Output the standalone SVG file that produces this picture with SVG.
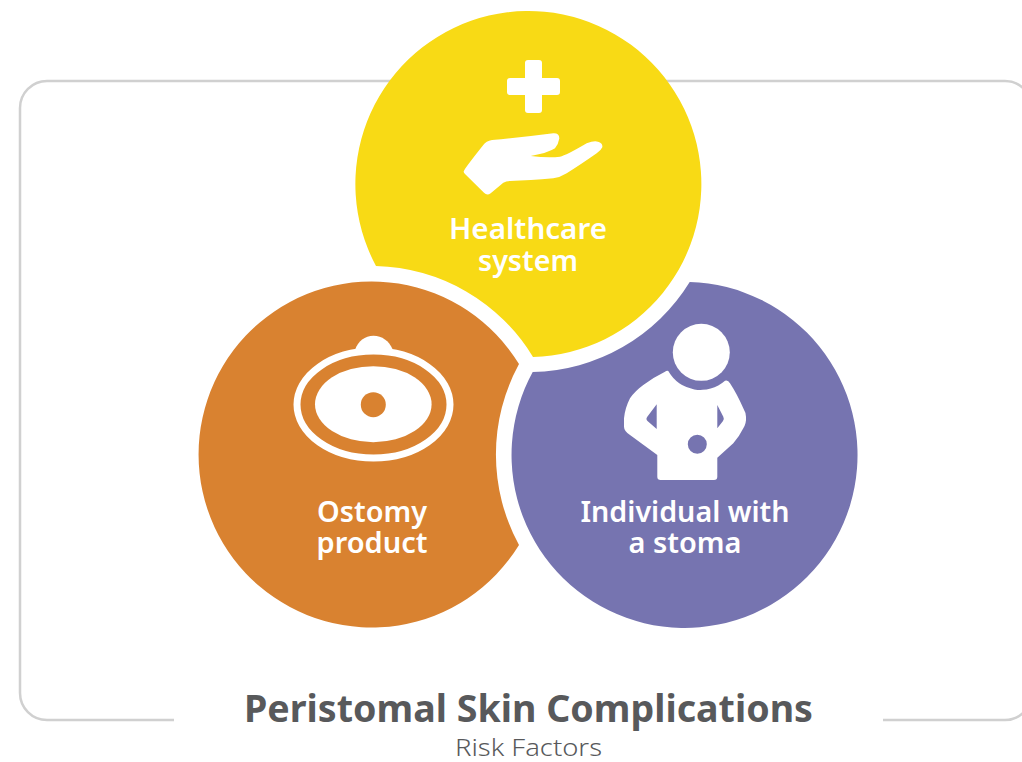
<svg xmlns="http://www.w3.org/2000/svg" width="1022" height="762" viewBox="0 0 1022 762">
<style>
.t{font-family:"Noto Sans","Open Sans",sans-serif;text-anchor:middle}
.w{fill:#fff;font-weight:600;font-size:28px}
.i{fill:#fff}
</style>
<rect width="1022" height="762" fill="#fff"/>
<g id="frame"><path d="M174,720H47A27,27 0 0 1 20,693V108A27,27 0 0 1 47,81H1005A27,27 0 0 1 1032,108V693A27,27 0 0 1 1005,720H883" fill="none" stroke="#d0d0d0" stroke-width="2.5"/></g>
<g id="healthcare">
<path d="M376,266A173,173 0 1 1 533,357A189,189 0 0 0 376,266Z" fill="#f8da15"/>
<path class="i" d="M528,60H539Q542,60 542,63V78H557Q560,78 560,81V92Q560,95 557,95H542V110Q542,113 539,113H528Q525,113 525,110V95H510Q507,95 507,92V81Q507,78 510,78H525V63Q525,60 528,60Z"/>
<path class="i" d="M464,170.7Q465,168 483.3,145Q486,141 492,140Q525,137 553.3,133.3Q559.5,133 559.3,138.5Q558.5,144 555,148.3Q548,153 530.7,156Q548,158 560,156.7Q566,155.5 586.7,143.3Q594,140.5 598,141.7Q603,143 602.3,147.3Q601,150.5 596.7,153.3Q580,165 566.7,173.3Q560,177.5 553.3,178.3Q530,180.5 510,181Q506,181 503.3,182.7L490.7,193.3Q487,196 484,192.7L465,174Q463,172.5 464,170.7Z"/>
<text class="t w" x="528" y="239" textLength="158" lengthAdjust="spacingAndGlyphs">Healthcare</text>
<text class="t w" x="528" y="271" textLength="100" lengthAdjust="spacingAndGlyphs">system</text>
</g>
<g id="ostomy-product">
<path d="M519,364A189,189 0 0 0 519,545A173,173 0 1 1 519,364Z" fill="#d98230"/>
<path class="i" d="M355,350C358,341 365,335.7 373.5,335.7C382,335.7 389,341 392.5,349L385,352H362Z"/>
<ellipse cx="373.5" cy="404.6" rx="76.5" ry="53.5" fill="none" stroke="#fff" stroke-width="7"/>
<ellipse class="i" cx="373.3" cy="404.2" rx="58.3" ry="38"/>
<circle cx="373.3" cy="404.7" r="12.5" fill="#d98230"/>
<text class="t w" x="372" y="522" textLength="110" lengthAdjust="spacingAndGlyphs">Ostomy</text>
<text class="t w" x="372" y="553" textLength="111" lengthAdjust="spacingAndGlyphs">product</text>
</g>
<g id="individual-with-a-stoma">
<path d="M532.7,372A189,189 0 0 0 689.7,282A173,173 0 1 1 532.7,372Z" fill="#7674b0"/>
<circle class="i" cx="701.3" cy="352.3" r="28.5"/>
<path class="i" fill-rule="evenodd" d="M668.3,371A37,37 0 0 0 725,380.7Q728,379.5 730,383.3Q737,394 743.3,408.3Q746,413 746,416.7Q746.5,423 743.3,428.3Q739,437 733.3,443.3L717.3,457.7V476.7Q717.3,480 714,480H660.7Q657.3,480 657.3,476.7V455L630,435Q624,431 624,426.7V418.3Q625,408 630,398.3Q635,391 643.3,385Q654,377 665,371.7Q667,370 668.3,371ZM656.7,404.3L647.3,416.7Q645.5,419 647.5,421L656.7,429ZM717.3,405L723.3,416.7Q724.5,419 723,421L717.3,428.3ZM706.8,444.3A9.5,9.5 0 1 0 687.8,444.3A9.5,9.5 0 1 0 706.8,444.3Z"/>
<text class="t w" x="685" y="522" textLength="209" lengthAdjust="spacingAndGlyphs">Individual with</text>
<text class="t w" x="685" y="553" textLength="113" lengthAdjust="spacingAndGlyphs">a stoma</text>
</g>
<g id="title">
<text class="t" x="528.5" y="722" font-size="38" font-weight="700" fill="#58595b" textLength="569" lengthAdjust="spacingAndGlyphs">Peristomal Skin Complications</text>
<text class="t" x="528.5" y="756" font-size="24" font-weight="300" fill="#58595b" textLength="147" lengthAdjust="spacingAndGlyphs">Risk Factors</text>
</g>
</svg>
